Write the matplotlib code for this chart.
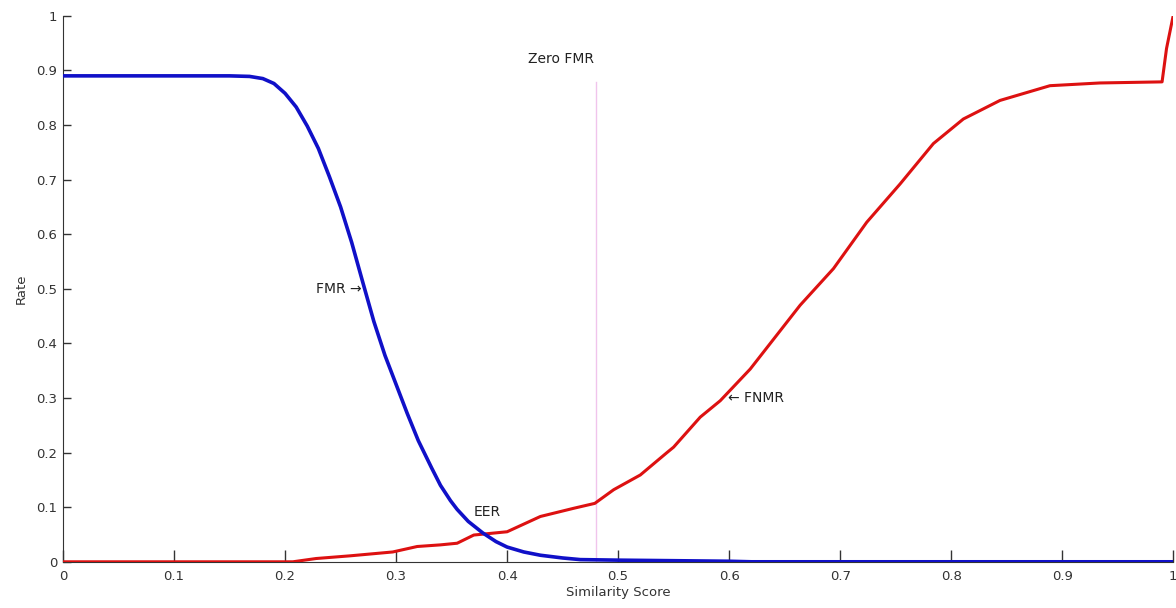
import matplotlib
matplotlib.use("Agg")
from matplotlib import pyplot as plt

# FMR curve (blue)
fmr_x = [0.0, 0.05, 0.10, 0.15, 0.168, 0.18, 0.19, 0.20, 0.21, 0.22, 0.23,
         0.24, 0.25, 0.26, 0.27, 0.28, 0.29, 0.30, 0.31, 0.32, 0.332, 0.34,
         0.349, 0.355, 0.365, 0.378, 0.39, 0.40, 0.415, 0.43, 0.45, 0.466,
         0.50, 0.55, 0.60, 0.62, 0.70, 0.80, 0.90, 1.0]
fmr_y = [0.890, 0.890, 0.890, 0.890, 0.889, 0.885, 0.876, 0.858, 0.833, 0.798,
         0.757, 0.705, 0.650, 0.585, 0.512, 0.440, 0.378, 0.325, 0.272, 0.222,
         0.172, 0.140, 0.112, 0.096, 0.074, 0.053, 0.037, 0.027, 0.018, 0.012,
         0.007, 0.004, 0.003, 0.002, 0.001, 0.0, 0.0, 0.0, 0.0, 0.0]

# FNMR curve (red)
fnmr_x = [0.0, 0.10, 0.207, 0.228, 0.259, 0.297, 0.319, 0.34, 0.355, 0.37,
          0.40, 0.43, 0.46, 0.479, 0.496, 0.52, 0.544, 0.55, 0.574, 0.592,
          0.619, 0.664, 0.694, 0.724, 0.754, 0.784, 0.811, 0.844, 0.889,
          0.934, 0.99, 0.994, 1.0]
fnmr_y = [0.0, 0.0, 0.0, 0.006, 0.011, 0.018, 0.028, 0.031, 0.034, 0.049,
          0.055, 0.083, 0.098, 0.107, 0.132, 0.159, 0.200, 0.210, 0.265, 0.295,
          0.353, 0.470, 0.537, 0.622, 0.692, 0.766, 0.811, 0.845, 0.872,
          0.877, 0.879, 0.940, 1.0]

zero_fmr_x = 0.48
ticks = [0, 0.1, 0.2, 0.3, 0.4, 0.5, 0.6, 0.7, 0.8, 0.9, 1]
tick_labels = ['0', '0.1', '0.2', '0.3', '0.4', '0.5', '0.6', '0.7', '0.8', '0.9', '1']

fig = plt.figure(figsize=(11.76, 6.08), dpi=100)
ax = fig.add_axes([0.0536, 0.076, 0.944, 0.898])

ax.plot(fnmr_x, fnmr_y, color='#dd1111', lw=2.2, zorder=3)
ax.plot(fmr_x, fmr_y, color='#1010c8', lw=2.6, zorder=4)
ax.plot([zero_fmr_x, zero_fmr_x], [0, 0.879], color='#f0c4ec', lw=1.0, zorder=2)

txt = dict(fontsize=10, color='#222222')
ax.text(0.419, 0.92, 'Zero FMR', ha='left', va='center', **txt)
ax.text(0.269, 0.5, 'FMR \u2192', ha='right', va='center', **txt)
ax.text(0.599, 0.30, '\u2190 FNMR', ha='left', va='center', **txt)
ax.text(0.37, 0.092, 'EER', ha='left', va='center', **txt)

ax.set_xlim(0, 1)
ax.set_ylim(0, 1)
ax.set_xticks(ticks)
ax.set_xticklabels(tick_labels)
ax.set_yticks(ticks)
ax.set_yticklabels(tick_labels)
ax.tick_params(axis='x', direction='in', length=8.5, width=1, colors='#333333',
               labelsize=9.5, pad=6)
ax.tick_params(axis='y', direction='in', length=6, width=1, colors='#333333',
               labelsize=9.5, pad=4)
for side in ['top', 'right']:
    ax.spines[side].set_visible(False)
for side in ['left', 'bottom']:
    ax.spines[side].set_color('#333333')

ax.set_xlabel('Similarity Score', fontsize=9.5, color='#333333', labelpad=2)
ax.set_ylabel('Rate', fontsize=9.5, color='#333333', labelpad=6)

fig.savefig('out.png', dpi=100)
